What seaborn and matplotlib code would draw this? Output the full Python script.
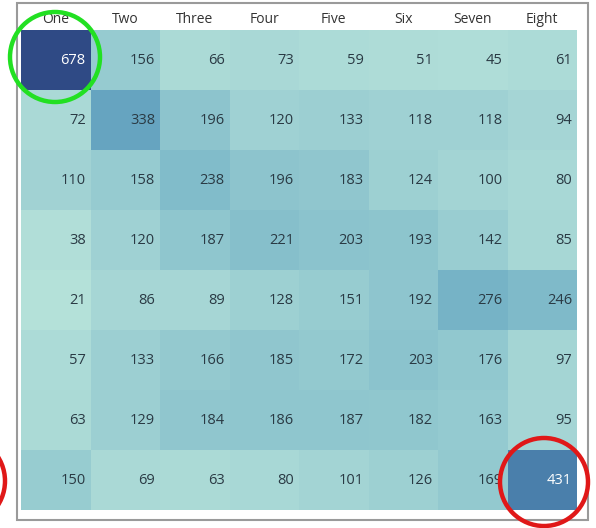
import numpy as np
import pandas as pd
import matplotlib
matplotlib.use("Agg")
import matplotlib.pyplot as plt
from matplotlib.colors import LinearSegmentedColormap
from matplotlib.patches import Rectangle, Circle
import seaborn as sns

columns = ["One", "Two", "Three", "Four", "Five", "Six", "Seven", "Eight"]
row_1 = [678, 156, 66, 73, 59, 51, 45, 61]
row_2 = [72, 338, 196, 120, 133, 118, 118, 94]
row_3 = [110, 158, 238, 196, 183, 124, 100, 80]
row_4 = [38, 120, 187, 221, 203, 193, 142, 85]
row_5 = [21, 86, 89, 128, 151, 192, 276, 246]
row_6 = [57, 133, 166, 185, 172, 203, 176, 97]
row_7 = [63, 129, 184, 186, 187, 182, 163, 95]
row_8 = [150, 69, 63, 80, 101, 126, 169, 431]

df = pd.DataFrame([row_1, row_2, row_3, row_4, row_5, row_6, row_7, row_8],
                  columns=columns)

sns.set_theme(style="white")
plt.rcParams["font.family"] = ["Open Sans", "DejaVu Sans"]

cmap = LinearSegmentedColormap.from_list(
    "mint_navy",
    [(0.00, "#b4e1d9"), (0.10, "#a6d6d5"), (0.27, "#8cc4cd"),
     (0.39, "#76b3c6"), (0.48, "#66a5c0"), (0.62, "#4a80ab"),
     (1.00, "#2f4a85")])

W, H = 596, 528
fig = plt.figure(figsize=(W / 100, H / 100), dpi=100)
fig.patch.set_facecolor("white")

# heatmap area in pixels
left, top, right, bottom = 21, 30, 577, 510
ax = fig.add_axes([left / W, 1 - bottom / H, (right - left) / W, (bottom - top) / H])

sns.heatmap(df, ax=ax, cmap=cmap, cbar=False, annot=False,
            vmin=df.values.min(), vmax=df.values.max(),
            xticklabels=columns, yticklabels=False)

ax.xaxis.tick_top()
ax.tick_params(axis="x", length=0, pad=2, labelsize=10, labelcolor="#333333")
ax.tick_params(axis="y", length=0)
for lbl in ax.get_xticklabels():
    lbl.set_rotation(0)

nrows, ncols = df.shape
for i in range(nrows):
    for j in range(ncols):
        v = df.iat[i, j]
        color = "white" if v > 400 else "#2a3a44"
        ax.text(j + 0.93, i + 0.5, f"{v}", ha="right", va="center",
                fontsize=10.5, color=color)

# frame around the chart
fig.patches.append(Rectangle((17 / W, 1 - 520 / H), (588 - 17) / W, (520 - 3) / H,
                             transform=fig.transFigure, fill=False,
                             edgecolor="#9a9a9a", linewidth=1.5))

# highlight rings
def ring(cx, cy, r, color):
    fig.patches.append(Circle((cx, H - cy), r, transform=None, fill=False,
                              edgecolor=color, linewidth=3.2, zorder=10))

ring(55, 57, 45, "#22e022")
ring(544, 482, 44, "#e01818")
ring(-40, 481, 45, "#e01818")

fig.savefig("out.png", dpi=100)
